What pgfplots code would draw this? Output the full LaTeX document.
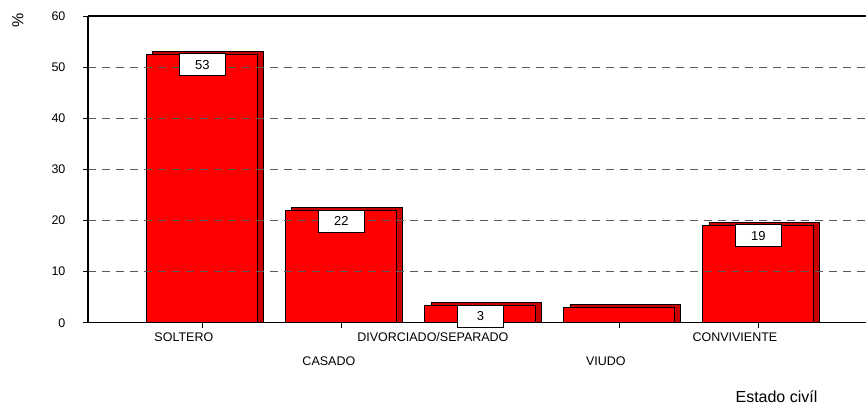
\documentclass[border=0pt]{standalone}
\usepackage{pgfplots}
\pgfplotsset{compat=1.18}
\usepackage{fontspec}
\setmainfont{Liberation Sans}
\usetikzlibrary{calc}
\definecolor{barred}{RGB}{255,0,0}
\definecolor{bartop}{RGB}{200,0,0}
\begin{document}
\begin{tikzpicture}
\begin{axis}[
    name=ax,
    scale only axis,
    width=779pt, height=307pt,
    xmin=-0.823, xmax=4.777,
    ymin=0, ymax=60,
    axis x line*=bottom,
    axis y line*=left,
    axis line style={black, line width=1.2pt},
    ybar, bar width=111pt,
    ytick={0,10,...,50},
    extra y ticks={60},
    extra y tick style={grid=major, major grid style={solid, black, line width=1.2pt}},
    ymajorgrids,
    major grid style={black!65, line width=0.9pt, dash pattern=on 8pt off 6pt},
    xtick={0,...,4},
    xticklabels={
        {\strut\makebox[0pt]{SOLTERO\hspace*{37pt}}},
        {\strut\\[9pt]\strut\makebox[0pt]{CASADO\hspace*{25pt}}},
        {\strut\makebox[0pt]{DIVORCIADO/SEPARADO\hspace*{95pt}}},
        {\strut\\[9pt]\strut\makebox[0pt]{VIUDO\hspace*{27pt}}},
        {\strut\makebox[0pt]{CONVIVIENTE\hspace*{47pt}}}
    },
    tick align=outside,
    major tick length=5pt,
    tick style={black, line width=0.8pt},
    font=\fontsize{12.5}{15}\selectfont,
    /pgf/number format/assume math mode=true,
    yticklabel style={xshift=-14pt},
    xticklabel style={align=center, anchor=north},
    axis on top,
    clip=false,
]
% back face: top and right side of each bar
\addplot[fill=bartop, draw=black, line width=0.8pt, bar shift=6pt]
    coordinates {(0,53.1) (1,22.5) (2,3.9) (3,3.6) (4,19.7)};
% front faces with value boxes
\addplot[fill=barred, draw=black, line width=1pt, bar shift=0pt,
    nodes near coords, point meta=explicit symbolic,
    nodes near coords style={anchor=north, fill=white, draw=black, line width=1pt,
        minimum width=46pt, minimum height=22pt, inner sep=0pt, yshift=1pt,
        font=\fontsize{13}{15}\selectfont}]
    coordinates {(0,52.5) [53] (1,21.9) [22] (2,3.3) [3] (4,19.1) [19]};
\addplot[fill=barred, draw=black, line width=1pt, bar shift=0pt]
    coordinates {(3,3.0)};
\end{axis}
\node[rotate=90, font=\fontsize{16}{18}\selectfont] at ($(ax.north west)+(-70pt,-4pt)$) {\%};
\node[font=\fontsize{16}{18}\selectfont] at ($(ax.south west)+(689pt,-74pt)$) {Estado civíl};
\path[use as bounding box] ($(ax.south west)+(-88pt,-83pt)$) rectangle ($(ax.north east)+(0pt,16pt)$);
\end{tikzpicture}
\end{document}
